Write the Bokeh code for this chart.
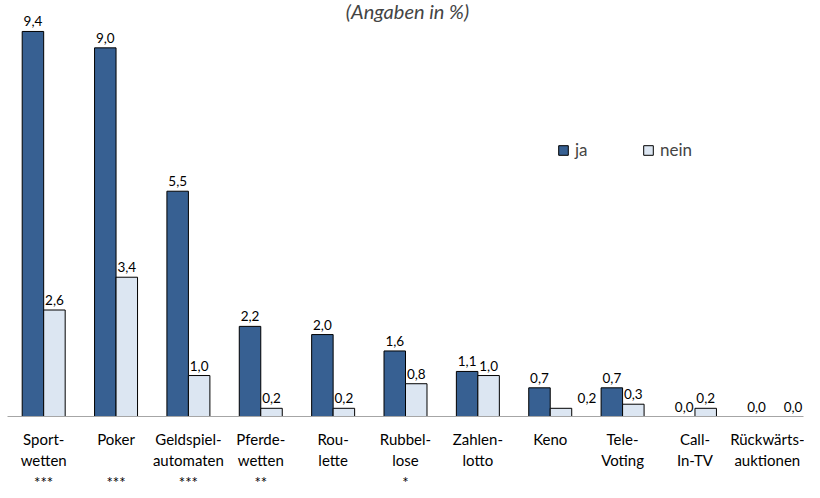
from bokeh.plotting import figure
from bokeh.models import ColumnDataSource, FixedTicker, Label, Legend, LegendItem, Range1d
from bokeh.core.properties import value
from bokeh.embed import file_html
from bokeh.resources import INLINE

# ---- data ----
categories = ["Sport-\nwetten\n***", "Poker\n \n***", "Geldspiel-\nautomaten\n***",
              "Pferde-\nwetten\n**", "Rou-\nlette", "Rubbel-\nlose\n*", "Zahlen-\nlotto",
              "Keno", "Tele-\nVoting", "Call-\nIn-TV", "Rückwärts-\nauktionen"]
ja = [9.4, 9.0, 5.5, 2.2, 2.0, 1.6, 1.1, 0.7, 0.7, 0.0, 0.0]
nein = [2.6, 3.4, 1.0, 0.2, 0.2, 0.8, 1.0, 0.2, 0.3, 0.2, 0.0]
series_names = ["ja", "nein"]
title_text = "(Angaben in %)"

# label nudges (screen px) for nein labels, as in the original
nein_label_dx = [0, 0, 0, 0, 0, 0, 0, 26, 0, 0, 15]

JA_COLOR = "#376092"
NEIN_COLOR = "#DCE6F2"
FONT = "Lato"

def fmt(v):
    return f"{v:.1f}".replace(".", ",")

n = len(categories)
idx = list(range(n))
half = 0.1485
bw = 0.297

src_ja = ColumnDataSource(dict(x=[i - half for i in idx], top=ja,
                               label=[fmt(v) for v in ja]))
src_nein = ColumnDataSource(dict(x=[i + half for i in idx], top=nein,
                                 label=[fmt(v) for v in nein], dx=nein_label_dx))

FRAME_H = 416
p = figure(frame_width=796, frame_height=FRAME_H,
           x_range=Range1d(-0.5, n - 0.5), y_range=Range1d(0, 10.156),
           output_backend="svg", toolbar_location=None,
           min_border_left=7, min_border_right=1, min_border_top=0, min_border_bottom=66)
p.outline_line_color = None
p.xgrid.grid_line_color = None
p.ygrid.grid_line_color = None
p.yaxis.visible = False

r_ja = p.vbar(x="x", top="top", width=bw, bottom=0, source=src_ja,
              fill_color=JA_COLOR, line_color="black", line_width=1)
r_nein = p.vbar(x="x", top="top", width=bw, bottom=0, source=src_nein,
                fill_color=NEIN_COLOR, line_color="black", line_width=1)

p.text(x="x", y="top", text="label", source=src_ja, text_align="center",
       text_baseline="alphabetic", y_offset=-10, text_font=value(FONT),
       text_font_size="13.5px", text_color="black")
p.text(x="x", y="top", text="label", source=src_nein, text_align="center",
       text_baseline="alphabetic", y_offset=-10, x_offset="dx", text_font=value(FONT),
       text_font_size="13.5px", text_color="black")

ax = p.xaxis[0]
ax.ticker = FixedTicker(ticks=idx)
ax.major_label_overrides = {i: c for i, c in zip(idx, categories)}
ax.major_tick_line_color = None
ax.minor_tick_line_color = None
ax.axis_line_color = "#a6a6a6"
ax.axis_line_width = 1
ax.major_label_text_font = FONT
ax.major_label_text_font_size = "15px"
ax.major_label_text_color = "black"
ax.major_label_standoff = 7

for item, r, xloc in ((series_names[0], r_ja, 550), (series_names[1], r_nein, 635)):
    leg = Legend(items=[LegendItem(label=item, renderers=[r])], location=(xloc, 256),
                 orientation="horizontal", border_line_color=None,
                 background_fill_alpha=0, padding=0, margin=0, glyph_width=12,
                 glyph_height=12, label_standoff=6, label_height=12,
                 label_text_font=FONT, label_text_font_size="17px")
    p.add_layout(leg, "center")

p.add_layout(Label(x=400, y=FRAME_H - 10, x_units="screen", y_units="screen", text=title_text,
                   text_align="center", text_baseline="alphabetic",
                   text_font=FONT, text_font_style="italic", text_font_size="20px"))

open("out.html", "w").write(file_html(p, INLINE))
